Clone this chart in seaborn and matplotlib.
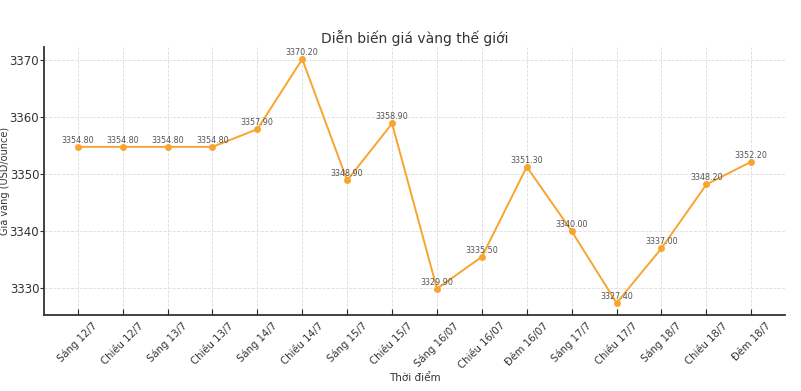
import matplotlib
matplotlib.use("Agg")
import matplotlib.pyplot as plt
import seaborn as sns
import pandas as pd

# Data
time_labels = [
    "Sáng 12/7", "Chiều 12/7", "Sáng 13/7", "Chiều 13/7", "Sáng 14/7",
    "Chiều 14/7", "Sáng 15/7", "Chiều 15/7", "Sáng 16/07", "Chiều 16/07",
    "Đêm 16/07", "Sáng 17/7", "Chiều 17/7", "Sáng 18/7", "Chiều 18/7", "Đêm 18/7",
]
gold_prices = [
    3354.80, 3354.80, 3354.80, 3354.80, 3357.90, 3370.20, 3348.90, 3358.90,
    3329.90, 3335.50, 3351.30, 3340.00, 3327.40, 3337.00, 3348.20, 3352.20,
]

df = pd.DataFrame({"pos": range(len(time_labels)), "price": gold_prices})

sns.set_style("white")
plt.rcParams['font.family'] = ['DejaVu Sans']

fig, ax = plt.subplots(figsize=(8.01, 3.91), dpi=100)
sns.lineplot(data=df, x="pos", y="price", ax=ax, color="#F7A530",
             marker="o", markersize=5, markeredgewidth=0, linewidth=1.4)

for x, y in zip(df["pos"], df["price"]):
    ax.annotate(f"{y:.2f}", (x, y), textcoords="offset points", xytext=(0, 1.5),
                ha="center", va="bottom", fontsize=5.8, color="#555555")

ax.set_xticks(df["pos"])
ax.set_xticklabels(time_labels, rotation=45, ha="center", fontsize=7.3, color="#333333")
ax.set_yticks([3330, 3340, 3350, 3360, 3370])
ax.tick_params(axis="y", labelsize=8.5, colors="#333333", length=3, direction="out", left=True, pad=0.5)
ax.tick_params(axis="x", direction="in", length=4, bottom=True, pad=4)
ax.set_xlim(-0.75, 15.75)

ax.grid(True, linestyle="--", linewidth=0.6, color="#dddddd")
for side in ["top", "right"]:
    ax.spines[side].set_visible(False)
for side in ["left", "bottom"]:
    ax.spines[side].set_color("#333333")
    ax.spines[side].set_linewidth(1.3)

ax.set_title("Diễn biến giá vàng thế giới", fontsize=10, color="#333333", pad=3)
ax.set_xlabel("Thời điểm", fontsize=7.5, color="#333333")
ax.set_ylabel("Giá vàng (USD/ounce)", fontsize=7, color="#333333")
ax.xaxis.set_label_coords(0.5, -0.215)
ax.yaxis.set_label_coords(-0.046, 0.5)

fig.subplots_adjust(left=0.055, right=0.98, top=0.88, bottom=0.194)
fig.savefig("out.png", dpi=100)
